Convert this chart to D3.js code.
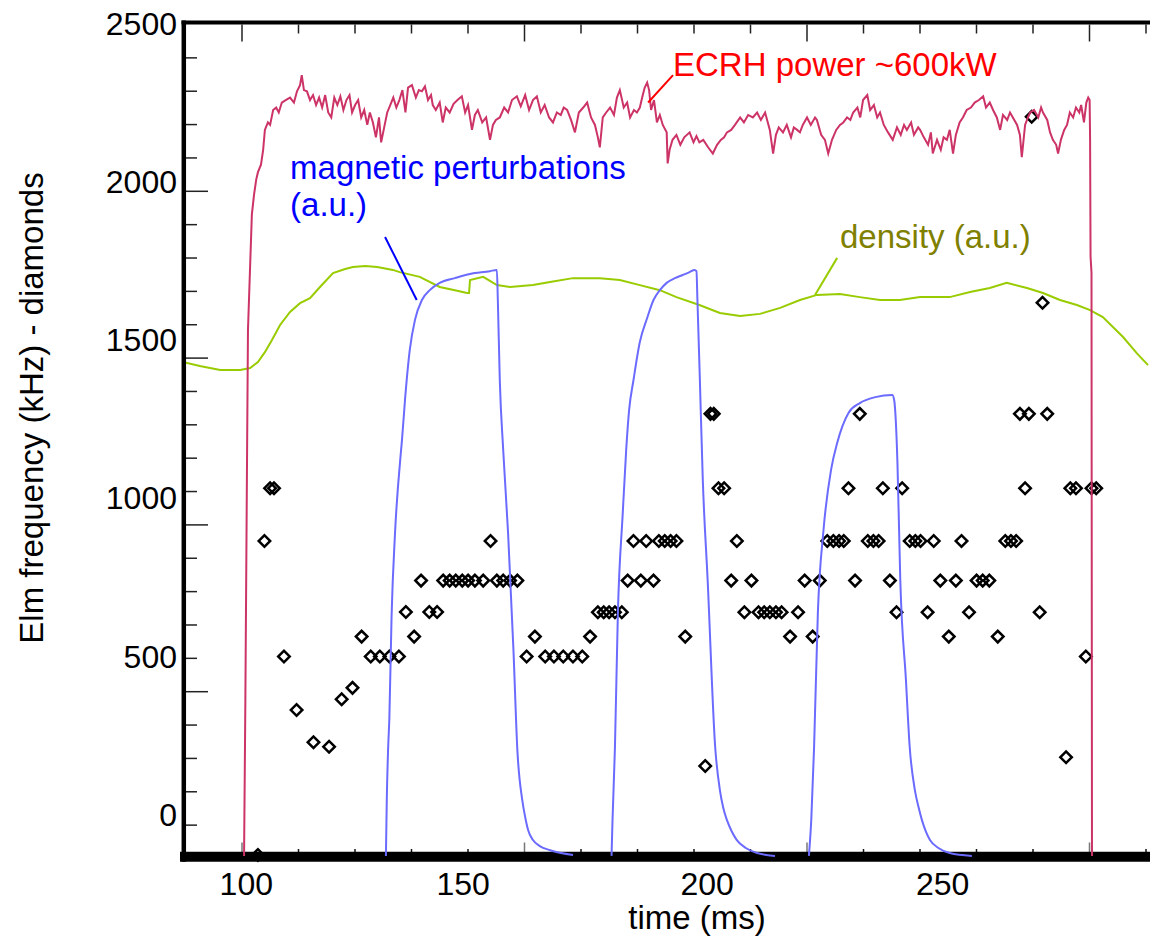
<!DOCTYPE html>
<html>
<head>
<meta charset="utf-8">
<script src="https://cdn.jsdelivr.net/npm/d3@7"></script>
<style>
  body { margin: 0; background: #fff; }
  svg { display: block; font-family: "Liberation Sans", Arial, Helvetica, sans-serif; }
</style>
</head>
<body>
<script>
// tick labels
var xTickLabels = [100, 150, 200, 250];
var yTickLabels = [0, 500, 1000, 1500, 2000, 2500];

// ECRH power (kW) against time (ms)
var ecrhTime = [99.6, 99.9, 100.3, 100.5, 101.0, 101.4, 101.9, 102.4, 102.8, 103.5, 104.0, 104.4, 105.1, 105.6, 106.3, 107.0, 107.6, 108.3, 109.2, 110.2,
  111.1, 111.8, 112.5, 112.9, 113.4, 114.1, 114.8, 115.5, 116.2, 116.9, 117.6, 118.3, 119.0, 119.7, 120.4, 121.1, 121.8, 122.5, 123.2, 123.9,
  124.5, 125.2, 125.9, 126.6, 127.3, 128.0, 128.6, 129.3, 130.0, 130.7, 131.2, 131.9, 132.6, 133.3, 134.0, 134.7, 135.4, 136.1, 136.8, 137.4,
  138.3, 139.2, 139.9, 140.6, 141.3, 142.0, 142.7, 143.1, 143.8, 144.7, 145.4, 146.1, 147.0, 147.9, 148.8, 149.8, 150.5, 151.1, 151.9, 152.5,
  153.1, 154.0, 154.8, 155.6, 156.2, 156.8, 157.6, 158.5, 159.3, 160.1, 161.1, 161.9, 162.8, 163.6, 164.4, 165.2, 166.0, 166.8, 167.7, 168.5,
  169.3, 170.1, 170.7, 171.4, 172.2, 173.0, 173.8, 174.7, 175.5, 176.3, 177.1, 177.7, 178.1, 178.7, 179.4, 180.2, 181.0, 181.6, 182.2, 183.0,
  183.7, 184.3, 185.1, 185.7, 186.3, 186.9, 187.3, 187.8, 188.2, 188.6, 189.2, 189.8, 190.4, 191.0, 191.8, 192.0, 192.4, 193.0, 193.8, 194.6,
  195.4, 196.5, 197.3, 197.9, 198.5, 199.3, 200.3, 201.3, 202.2, 203.0, 203.7, 204.3, 205.2, 206.0, 207.1, 207.9, 208.8, 209.8, 210.7, 211.5,
  212.4, 213.4, 214.1, 214.7, 215.3, 216.2, 217.0, 217.9, 218.5, 219.2, 219.8, 220.4, 221.3, 222.1, 223.0, 223.4, 224.3, 225.1, 225.8, 226.6,
  227.5, 228.3, 229.0, 229.8, 230.5, 231.1, 232.0, 232.6, 233.2, 234.1, 234.7, 235.5, 236.2, 236.8, 237.6, 238.5, 239.5, 240.4, 241.2, 241.9,
  242.5, 243.4, 244.0, 244.9, 245.3, 246.1, 247.0, 247.6, 248.0, 248.9, 249.7, 250.3, 251.0, 251.6, 252.3, 252.9, 253.7, 254.4, 255.2, 256.1,
  256.9, 257.8, 258.7, 259.3, 260.1, 260.8, 261.6, 262.3, 262.9, 263.8, 264.4, 265.0, 265.9, 266.5, 266.9, 267.6, 268.2, 268.7, 269.5, 270.4,
  271.0, 271.4, 272.3, 272.9, 273.5, 274.2, 274.6, 275.2, 275.9, 276.5, 277.1, 277.8, 278.4, 279.1, 279.5, 280.1, 280.6, 281.0, 281.3, 281.4,
  281.5, 281.7, 281.8];
var ecrhPower = [0, 125, 327, 423, 475, 516, 532, 544, 550, 556, 568, 584, 590, 588, 600, 602, 598, 606, 608, 610,
  606, 615, 620, 628, 616, 615, 608, 612, 604, 610, 602, 612, 598, 594, 610, 604, 611, 600, 608, 612,
  598, 604, 608, 594, 600, 588, 598, 590, 578, 594, 574, 586, 598, 604, 610, 602, 608, 616, 598, 618,
  620, 610, 616, 615, 619, 608, 612, 604, 600, 606, 590, 602, 598, 605, 608, 611, 598, 604, 584, 596,
  600, 590, 594, 576, 588, 592, 594, 602, 598, 608, 611, 603, 612, 600, 608, 611, 598, 604, 594, 590,
  598, 596, 602, 600, 592, 582, 598, 602, 606, 594, 588, 578, 570, 594, 598, 602, 596, 610, 616, 602,
  606, 594, 600, 598, 602, 612, 618, 622, 616, 600, 608, 590, 596, 588, 582, 557, 568, 576, 580, 572,
  578, 582, 574, 579, 574, 576, 570, 565, 572, 576, 578, 582, 584, 588, 594, 590, 596, 594, 598, 592,
  598, 584, 565, 580, 586, 582, 588, 578, 586, 584, 582, 588, 594, 588, 594, 592, 580, 576, 565, 576,
  584, 588, 590, 594, 592, 598, 602, 594, 608, 612, 600, 604, 594, 598, 588, 582, 576, 586, 580, 588,
  584, 590, 580, 586, 584, 578, 572, 582, 565, 576, 568, 578, 576, 584, 565, 580, 590, 594, 600, 602,
  606, 608, 611, 602, 606, 600, 594, 584, 596, 592, 598, 594, 588, 580, 562, 588, 594, 598, 600, 594,
  602, 598, 592, 582, 576, 572, 565, 576, 584, 588, 598, 594, 602, 598, 604, 590, 606, 610, 608, 576,
  482, 469, 0];

// density (a.u., on the frequency axis)
var densityTime = [85.5, 89.4, 94.1, 98.7, 101.0, 102.8, 104.4, 106.0, 107.9, 110.2, 112.5, 114.8, 117.1, 120.1, 122.9, 124.7, 127.5, 130.3, 133.9, 135.5,
  140.1, 144.7, 148.2, 150.9, 151.3, 151.5, 154.2, 157.0, 159.7, 164.4, 167.9, 172.6, 178.1, 182.2, 186.3, 190.4, 193.8, 198.5, 202.8, 207.1,
  211.3, 215.6, 219.8, 223.4, 228.3, 232.5, 236.8, 241.0, 245.3, 251.6, 255.9, 260.1, 263.7, 268.0, 271.4, 275.0, 278.6, 281.4, 284.1, 288.4,
  291.3, 293.7];
var densityValue = [1428, 1415, 1403, 1403, 1409, 1428, 1459, 1497, 1545, 1586, 1614, 1630, 1665, 1709, 1722, 1728, 1731, 1728, 1719, 1712,
  1697, 1665, 1655, 1646, 1646, 1687, 1697, 1671, 1665, 1671, 1681, 1693, 1693, 1687, 1671, 1655, 1633, 1608, 1583, 1573,
  1580, 1599, 1624, 1640, 1643, 1633, 1624, 1624, 1633, 1633, 1649, 1662, 1678, 1662, 1646, 1624, 1608, 1592, 1570, 1507,
  1456, 1418];

// magnetic perturbations (a.u., on the frequency axis), three pulses
var mag1Time = [132.3, 132.5, 132.8, 133.1, 133.6, 134.4, 135.8, 136.0, 136.7, 137.8, 139.0, 140.6, 142.4, 144.7, 148.2, 151.5, 155.6, 157.0, 157.2, 157.6,
  158.3, 159.3, 160.4, 161.2, 162.2, 162.8, 163.4, 164.4, 165.8, 167.9, 172.6];
var mag1Value = [-133, 44, 202, 306, 622, 887, 1150, 1181, 1308, 1466, 1561, 1624, 1655, 1678, 1693, 1706, 1715, 1719, 1624, 1371,
  1150, 887, 518, 202, 44, -10, -51, -83, -102, -115, -130];
var mag2Time = [180.5, 180.7, 181.2, 181.8, 182.8, 183.5, 184.1, 185.0, 186.3, 187.8, 189.1, 190.4, 191.8, 193.5, 195.1, 196.5, 197.5, 197.9, 198.1, 198.6,
  199.2, 200.2, 201.8, 202.8, 203.5, 204.3, 205.3, 206.4, 208.3, 210.7, 214.5];
var mag2Value = [-133, -20, 211, 635, 951, 1150, 1276, 1371, 1491, 1567, 1624, 1655, 1678, 1693, 1703, 1712, 1719, 1715, 1624, 1371,
  1055, 739, 211, 75, 20, -20, -55, -83, -108, -124, -133];
var mag3Time = [221.7, 222.2, 222.8, 223.6, 224.8, 226.4, 227.7, 230.1, 232.5, 235.8, 239.4, 239.8, 240.5, 241.1, 242.3, 243.1, 244.2, 245.0, 245.7, 246.5,
  247.4, 249.2, 251.6, 256.3];
var mag3Value = [-133, -20, 211, 635, 897, 1087, 1172, 1267, 1298, 1317, 1324, 1308, 1109, 739, 423, 211, 75, 20, -20, -55,
  -83, -108, -124, -133];

// Elm frequency (diamonds)
var elmTime = [102.8, 104.3, 105.6, 106.5, 108.8, 111.7, 115.6, 119.2, 122.1, 124.6,
  126.7, 128.8, 130.9, 133.1, 135.3, 136.9, 138.8, 140.4, 142.3, 144.1,
  145.5, 147.0, 148.4, 149.9, 151.1, 152.5, 154.2, 155.7, 157.0, 158.3,
  159.7, 161.2, 163.1, 164.8, 166.9, 168.7, 170.6, 172.6, 174.5, 176.1,
  177.7, 178.9, 180.0, 181.2, 182.6, 183.8, 185.0, 186.5, 187.6, 189.1,
  190.2, 191.4, 192.6, 193.8, 195.6, 199.7, 200.8, 201.5, 202.5, 203.7,
  205.2, 206.4, 208.0, 209.5, 211.0, 212.2, 213.4, 214.7, 215.9, 217.7,
  219.4, 220.8, 222.5, 224.0, 225.6, 226.9, 228.1, 229.1, 230.1, 231.5,
  232.5, 234.2, 235.4, 236.5, 237.4, 238.9, 240.3, 241.5, 243.1, 244.3,
  245.4, 246.9, 248.2, 249.6, 251.4, 252.9, 254.1, 255.7, 257.3, 258.6,
  260.0, 261.8, 263.4, 264.6, 265.7, 266.5, 267.6, 268.4, 269.0, 270.7,
  271.3, 272.3, 276.3, 277.2, 278.4, 280.5, 281.7, 282.7];
var elmFreq = [-130, 862, 1029, 1029, 497, 328, 226, 212, 362, 398,
  560, 497, 497, 497, 497, 638, 560, 737, 638, 638,
  737, 737, 737, 737, 737, 737, 737, 862, 737, 737,
  737, 737, 497, 560, 497, 497, 497, 497, 497, 560,
  637, 637, 637, 637, 637, 737, 862, 737, 862, 737,
  862, 862, 862, 862, 560, 151, 1264, 1264, 1029, 1029,
  737, 862, 637, 737, 637, 637, 637, 637, 637, 560,
  637, 737, 560, 737, 862, 862, 862, 862, 1029, 737,
  1264, 862, 862, 862, 1029, 737, 637, 1029, 862, 862,
  862, 637, 862, 737, 560, 737, 862, 637, 737, 737,
  737, 560, 862, 862, 862, 1264, 1029, 1264, 2203, 637,
  1615, 1264, 179, 1029, 1029, 497, 1029, 1029];

window.onload = function() {

  var width = 1150, height = 941;

  var svg = d3.select("body").append("svg")
    .attr("width", width)
    .attr("height", height);

  // time scale follows the hand placed time labels
  var x = d3.scaleLinear()
    .domain(xTickLabels)
    .range([245.8, 462.7, 706.7, 942.2]);

  // Elm frequency axis (diamonds, density, magnetics)
  var y = d3.scaleLinear()
    .domain([0, 2500])
    .range([813.8, 22.8]);

  // ECRH power in kW
  var yPower = d3.scaleLinear()
    .domain([0, 600])
    .range([856, 110]);

  // frame tick grid of the underlying plot
  var xFrame = d3.scaleLinear().domain([0, 15]).range([241.5, 1089]);
  var yFrame = d3.scaleLinear().domain([0, 25]).range([858, 24]);

  var xMinor = d3.range(0, 17).filter(function(k) { return k % 5 != 0; });
  var xMajor = [0, 5, 10, 15];
  var yMinor = d3.range(1, 25).filter(function(k) { return k % 5 != 0; });
  var yMajor = [5, 10, 15, 20];

  function tickAxis(axis, tx, ty, color) {
    var g = svg.append("g")
      .attr("transform", "translate(" + tx + "," + ty + ")")
      .call(axis.tickFormat(""));
    g.select(".domain").remove();
    g.selectAll("line").attr("stroke", color).attr("stroke-width", 1.5);
    return g;
  }

  // left ticks
  tickAxis(d3.axisRight(yFrame).tickValues(yMinor).tickSize(11), 186, 0, "#222");
  tickAxis(d3.axisRight(yFrame).tickValues(yMajor).tickSize(22), 186, 0, "#222");
  // top ticks
  tickAxis(d3.axisBottom(xFrame).tickValues(xMinor).tickSize(9), 0, 24.5, "#222");
  tickAxis(d3.axisBottom(xFrame).tickValues(xMajor).tickSize(17), 0, 24.5, "#222");
  // bottom ticks
  tickAxis(d3.axisTop(xFrame).tickValues(xMajor).tickSize(9.5), 0, 852, "#777");
  tickAxis(d3.axisTop(xFrame).tickValues(xMinor).tickSize(3), 0, 852, "#111");

  // frame lines
  svg.append("line").attr("x1", 180).attr("x2", width).attr("y1", 856.7).attr("y2", 856.7)
    .attr("stroke", "#000").attr("stroke-width", 10);
  svg.append("line").attr("x1", 181.5).attr("x2", width).attr("y1", 22.5).attr("y2", 22.5)
    .attr("stroke", "#000").attr("stroke-width", 4);
  svg.append("line").attr("x1", 183.8).attr("x2", 183.8).attr("y1", 20.5).attr("y2", 861.7)
    .attr("stroke", "#000").attr("stroke-width", 4.5);

  // clip for the traces
  svg.append("clipPath").attr("id", "plot")
    .append("rect").attr("x", 186).attr("y", 24).attr("width", width - 186).attr("height", 840);

  var plot = svg.append("g").attr("clip-path", "url(#plot)");

  // diamonds
  var diamond = d3.symbol().type(d3.symbolSquare).size(66);
  plot.selectAll("path.elm")
    .data(d3.zip(elmTime, elmFreq))
    .enter().append("path")
      .attr("class", "elm")
      .attr("d", diamond)
      .attr("transform", function(d) { return "translate(" + x(d[0]) + "," + y(d[1]) + ") rotate(45)"; })
      .attr("fill", "none")
      .attr("stroke", "#000")
      .attr("stroke-width", 2.5);

  var line = d3.line()
    .x(function(d) { return x(d[0]); })
    .y(function(d) { return y(d[1]); });

  var powerLine = d3.line()
    .x(function(d) { return x(d[0]); })
    .y(function(d) { return yPower(d[1]); });

  // density
  plot.append("path")
    .attr("d", line(d3.zip(densityTime, densityValue)))
    .attr("fill", "none")
    .attr("stroke", "#99cc00")
    .attr("stroke-width", 2);

  // magnetic perturbations
  [[mag1Time, mag1Value], [mag2Time, mag2Value], [mag3Time, mag3Value]].forEach(function(p) {
    plot.append("path")
      .attr("d", line.curve(d3.curveMonotoneX)(d3.zip(p[0], p[1])))
      .attr("fill", "none")
      .attr("stroke", "#6b6bff")
      .attr("stroke-width", 2);
  });
  line.curve(d3.curveLinear);

  // ECRH power
  plot.append("path")
    .attr("d", powerLine(d3.zip(ecrhTime, ecrhPower)))
    .attr("fill", "none")
    .attr("stroke", "#cc3366")
    .attr("stroke-width", 2);

  // tick labels
  var xLab = svg.append("g")
    .attr("transform", "translate(0,895)")
    .call(d3.axisBottom(x).tickValues(xTickLabels).tickSize(0).tickPadding(0).tickFormat(d3.format("d")));
  xLab.select(".domain").remove();
  xLab.attr("font-size", 32).attr("font-family", null);
  xLab.selectAll("text").attr("y", 0).attr("dy", null).attr("fill", "#000");

  var yLab = svg.append("g")
    .attr("transform", "translate(177,0)")
    .call(d3.axisLeft(y).tickValues(yTickLabels).tickSize(0).tickPadding(0).tickFormat(d3.format("d")));
  yLab.select(".domain").remove();
  yLab.attr("font-size", 32).attr("font-family", null);
  yLab.selectAll("text").attr("dy", "0.36em").attr("fill", "#000");

  // axis titles
  svg.append("text")
    .attr("x", 697)
    .attr("y", 929)
    .attr("text-anchor", "middle")
    .style("font-size", "33px")
    .text("time (ms)");

  svg.append("text")
    .attr("transform", "translate(43,408) rotate(-90)")
    .attr("text-anchor", "middle")
    .style("font-size", "33px")
    .text("Elm frequency (kHz) - diamonds");

  // annotations
  svg.append("line")
    .attr("x1", x(132.1)).attr("y1", y(1823)).attr("x2", x(139.4)).attr("y2", y(1624))
    .attr("stroke", "#0000ff").attr("stroke-width", 2);
  svg.append("line")
    .attr("x1", x(188.0)).attr("y1", yPower(606)).attr("x2", x(193.1)).attr("y2", yPower(628))
    .attr("stroke", "#ff0000").attr("stroke-width", 2);
  svg.append("line")
    .attr("x1", x(227.7)).attr("y1", y(1757)).attr("x2", x(223.0)).attr("y2", y(1640))
    .attr("stroke", "#99cc00").attr("stroke-width", 2);

  svg.append("text")
    .attr("x", x(193.1)).attr("y", yPower(627))
    .attr("fill", "#ff0000")
    .style("font-size", "33px")
    .text("ECRH power ~600kW");

  var mag = svg.append("text")
    .attr("x", x(110.2)).attr("y", y(2006))
    .attr("fill", "#0000ff")
    .style("font-size", "33px");
  mag.append("tspan").text("magnetic perturbations");
  mag.append("tspan").attr("x", x(110.2)).attr("dy", 37).text("(a.u.)");

  svg.append("text")
    .attr("x", x(228.3)).attr("y", y(1788))
    .attr("fill", "#808000")
    .style("font-size", "33px")
    .text("density (a.u.)");
};
</script>
</body>
</html>
